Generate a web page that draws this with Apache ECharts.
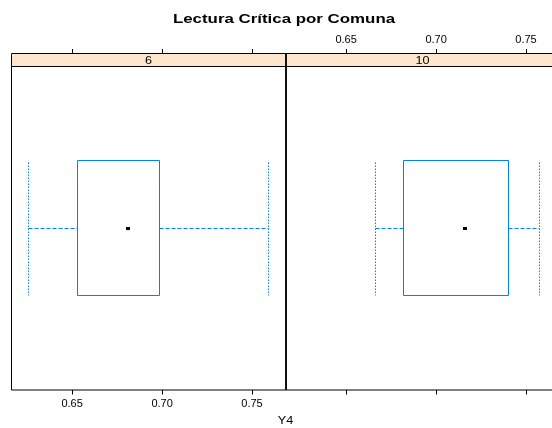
<!DOCTYPE html>
<html>
<head>
<meta charset="utf-8">
<script src="https://cdn.jsdelivr.net/npm/echarts@6/dist/echarts.min.js"></script>
<style>
html, body { margin: 0; padding: 0; background: #fff; }
#chart { width: 552px; height: 428px; }
</style>
</head>
<body>
<div id="chart"></div>
<script>
// Panels (one per comuna)
const comunas = ['6', '10'];
// Five-number summaries: [lower whisker, Q1, median, Q3, upper whisker]
const stats6 = [0.6256, 0.6532, 0.6808, 0.6988, 0.7593];
const stats10 = [0.6666, 0.6819, 0.7161, 0.7403, 0.7577];
const tickValues = [0.65, 0.70, 0.75];
const xRange = [0.6163, 0.7686];

const FONT = "'Liberation Sans', Arial, Helvetica, sans-serif";
const BLUE = '#0080ff';

// Panel geometry
const panelLeft = 11.5;
const panelTop = 66.5;
const panelW = 274;
const panelH = 323.5;
const stripH = 13;

const chart = echarts.init(document.getElementById('chart'), null, { renderer: 'canvas' });

// Snap to the pixel grid so 1px strokes stay sharp
const crisp = v => Math.round(v - 0.5) + 0.5;

// Draws one horizontal box-and-whisker plot through the axis scales
function renderBox(params, api) {
  const lo = api.value(0), q1 = api.value(1), med = api.value(2), q3 = api.value(3), hi = api.value(4);
  const yc = api.value(5);
  const half = 0.25;
  const xLo = crisp(api.coord([lo, yc])[0]);
  const xQ1 = crisp(api.coord([q1, yc])[0]);
  const xMed = api.coord([med, yc])[0];
  const xQ3 = crisp(api.coord([q3, yc])[0]);
  const xHi = crisp(api.coord([hi, yc])[0]);
  const yTop = crisp(api.coord([q1, yc + half])[1]);
  const yBot = crisp(api.coord([q1, yc - half])[1]);
  const cy = crisp(api.coord([med, yc])[1]);
  const dashed = { stroke: BLUE, lineWidth: 1, lineDash: [4, 2], fill: null };
  const dotted = { stroke: BLUE, lineWidth: 1, lineDash: [1.5, 1.5], fill: null };
  return {
    type: 'group',
    children: [
      { type: 'line', shape: { x1: xLo, y1: cy, x2: xQ1, y2: cy }, style: dashed },
      { type: 'line', shape: { x1: xQ3, y1: cy, x2: xHi, y2: cy }, style: dashed },
      { type: 'line', shape: { x1: xLo, y1: yTop + 2, x2: xLo, y2: yBot }, style: dotted },
      { type: 'line', shape: { x1: xHi, y1: yTop + 2, x2: xHi, y2: yBot }, style: dotted },
      { type: 'rect', shape: { x: xQ1, y: yTop, width: xQ3 - xQ1, height: yBot - yTop },
        style: { stroke: BLUE, lineWidth: 1, fill: null } },
      { type: 'rect', shape: { x: Math.round(xMed) - 2, y: cy - 1.5, width: 4, height: 3 },
        style: { fill: '#000' } }
    ]
  };
}

function xAxisFor(gridIndex, position, showLabels) {
  return {
    type: 'value',
    gridIndex: gridIndex,
    position: position,
    offset: position === 'top' ? stripH : 0,
    min: xRange[0],
    max: xRange[1],
    axisLine: { show: false },
    splitLine: { show: false },
    axisTick: {
      show: true, inside: false, length: 4.5, customValues: tickValues,
      lineStyle: { color: '#000', width: 1 }
    },
    axisLabel: {
      show: showLabels, customValues: tickValues, margin: 8,
      color: '#000', fontFamily: FONT, fontSize: 11,
      formatter: v => v.toFixed(2)
    }
  };
}

const grids = comunas.map((c, i) => ({
  left: panelLeft + i * panelW,
  top: panelTop,
  width: panelW,
  height: panelH,
  outerBoundsMode: 'none',
  containLabel: false,
  show: true,
  borderColor: '#000',
  borderWidth: 1,
  backgroundColor: 'transparent'
}));

const yAxes = comunas.map((c, i) => ({
  type: 'value', gridIndex: i, min: 0.4, max: 1.6, show: false
}));

const xAxes = [
  xAxisFor(0, 'bottom', true),
  xAxisFor(0, 'top', false),
  xAxisFor(1, 'bottom', false),
  xAxisFor(1, 'top', true)
];

const allStats = [stats6, stats10];
const series = comunas.map((c, i) => ({
  type: 'custom',
  name: c,
  xAxisIndex: i * 2,
  yAxisIndex: i,
  renderItem: renderBox,
  encode: { x: [0, 1, 2, 3, 4], y: 5 },
  data: [allStats[i].concat([1])],
  silent: true,
  clip: false
}));

// Strip headers above each panel
const stripGraphics = [];
comunas.forEach((c, i) => {
  stripGraphics.push({
    type: 'rect',
    shape: { x: panelLeft + i * panelW, y: panelTop - stripH, width: panelW, height: stripH },
    style: { fill: '#ffe5cc', stroke: '#000', lineWidth: 1 },
    silent: true
  });
  stripGraphics.push({
    type: 'text',
    x: panelLeft + i * panelW + panelW / 2,
    y: panelTop - stripH / 2 + 0.5,
    scaleX: 1.1,
    style: { text: c, fontFamily: FONT, fontSize: 11.5, fill: '#000', align: 'center', verticalAlign: 'middle' },
    silent: true
  });
});

const centerX = panelLeft + panelW;

// Shared border between the two panels, drawn heavier
stripGraphics.push({
  type: 'line',
  shape: { x1: centerX + 0.5, y1: panelTop - stripH, x2: centerX + 0.5, y2: panelTop + panelH },
  style: { stroke: '#111', lineWidth: 2 },
  silent: true,
  z: 10
});

chart.setOption({
  animation: false,
  backgroundColor: '#fff',
  grid: grids,
  xAxis: xAxes,
  yAxis: yAxes,
  series: series,
  graphic: stripGraphics.concat([
    {
      type: 'text',
      x: centerX - 1.5, y: 19.5,
      scaleX: 1.25,
      style: { text: 'Lectura Crítica por Comuna', fontFamily: FONT, fontSize: 13.5, fontWeight: 'bold',
        fill: '#000', align: 'center', verticalAlign: 'middle' }
    },
    {
      type: 'text',
      x: centerX, y: 421,
      scaleX: 1.15,
      style: { text: 'Y4', fontFamily: FONT, fontSize: 11, fill: '#000', align: 'center', verticalAlign: 'middle' }
    }
  ])
});
</script>
</body>
</html>
